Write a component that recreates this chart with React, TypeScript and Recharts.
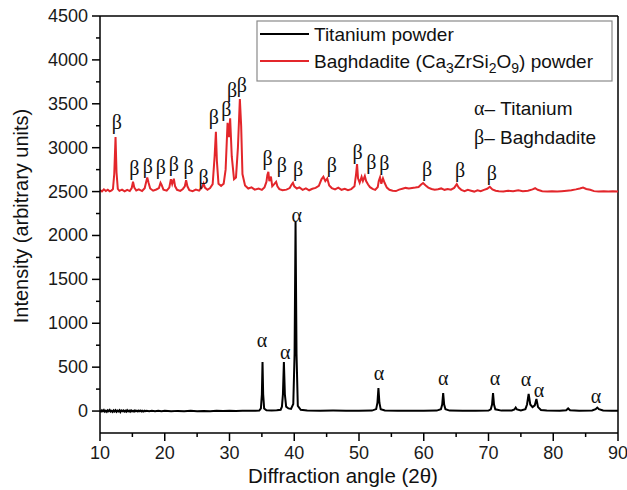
import React from "react";
import { ComposedChart, Line, Scatter, XAxis, YAxis, ReferenceLine } from "recharts";

const tiAngle = [10.0, 10.15, 10.3, 10.45, 10.6, 10.75, 10.9, 11.05, 11.2, 11.35, 11.5, 11.65, 11.8, 11.95, 12.1, 12.25, 12.4, 12.55, 12.7, 12.85, 13.0, 13.15, 13.3, 13.45, 13.6, 13.75, 13.9, 14.05, 14.2, 14.35, 14.5, 14.65, 14.8, 14.95, 15.1, 15.25, 15.4, 15.55, 15.7, 15.85, 16.0, 16.15, 16.3, 16.45, 16.6, 16.75, 16.9, 17.05, 17.2, 17.6, 18.0, 18.5, 19.0, 19.5, 20.0, 21.0, 22.0, 23.0, 24.0, 25.0, 26.0, 27.0, 28.0, 29.0, 30.0, 31.0, 32.0, 33.0, 34.0, 34.6, 34.85, 35.0, 35.1, 35.2, 35.35, 35.7, 36.5, 37.3, 37.9, 38.1, 38.25, 38.4, 38.55, 38.75, 39.1, 39.5, 39.85, 40.05, 40.2, 40.35, 40.55, 41.0, 42.0, 44.0, 46.0, 48.0, 50.0, 52.0, 52.65, 52.85, 53.0, 53.15, 53.35, 54.0, 56.0, 58.0, 60.0, 62.0, 62.65, 62.85, 63.0, 63.15, 63.35, 64.0, 66.0, 68.0, 70.0, 70.35, 70.55, 70.7, 70.85, 71.05, 72.0, 73.6, 74.0, 74.2, 74.4, 75.0, 75.7, 75.95, 76.2, 76.45, 76.8, 77.15, 77.4, 77.65, 78.1, 79.0, 81.0, 82.0, 82.3, 82.6, 84.0, 86.0, 86.55, 86.8, 87.05, 87.7, 89.0, 90.0];
const tiIntensity = [6, -5, 9, -3, 11, -7, 4, -9, 8, -2, 12, -6, 3, -10, 7, -4, 10, -8, 5, -3, 9, -11, 6, -2, 8, -6, 4, -7, 10, -3, 5, -8, 7, -5, 3, -6, 8, -2, 4, -5, 6, -3, 5, -4, 3, -5, 4, -2, 3, -3, 4, -3, 3, -2, 2, -3, 2, -2, 3, -2, 2, -1, 3, 1, 3, 2, 4, 3, 3, 6, 30, 190, 558, 190, 30, 10, 7, 8, 15, 50, 190, 558, 190, 50, 30, 25, 80, 650, 2153, 650, 60, 15, 6, 4, 5, 3, 4, 5, 22, 95, 262, 95, 22, 6, 4, 3, 4, 5, 20, 75, 205, 75, 20, 5, 3, 4, 6, 20, 75, 205, 75, 20, 5, 6, 18, 40, 18, 7, 22, 75, 194, 75, 45, 65, 137, 45, 12, 5, 4, 10, 30, 10, 4, 6, 22, 40, 22, 6, 4, 3];

const bgAngle = [10.0, 10.3, 10.6, 10.9, 11.2, 11.5, 11.8, 12.0, 12.2, 12.4, 12.55, 12.75, 13.0, 13.4, 13.8, 14.2, 14.6, 14.9, 15.1, 15.3, 15.6, 16.0, 16.5, 16.9, 17.1, 17.3, 17.5, 17.75, 18.2, 18.7, 19.1, 19.35, 19.5, 19.8, 20.3, 20.7, 20.95, 21.15, 21.4, 21.6, 21.9, 22.4, 22.8, 23.1, 23.3, 23.5, 23.8, 24.3, 24.8, 25.3, 25.75, 26.0, 26.2, 26.6, 27.0, 27.4, 27.7, 27.9, 28.05, 28.3, 28.7, 29.1, 29.4, 29.7, 29.9, 30.1, 30.35, 30.7, 31.0, 31.3, 31.6, 31.8, 32.0, 32.4, 32.9, 33.4, 33.9, 34.5, 35.0, 35.4, 35.7, 35.85, 36.0, 36.15, 36.4, 36.6, 36.9, 37.2, 37.4, 37.7, 38.2, 38.8, 39.3, 39.6, 39.8, 40.0, 40.4, 40.8, 41.3, 41.8, 42.3, 42.8, 43.3, 43.8, 44.2, 44.5, 44.8, 45.1, 45.4, 45.8, 46.3, 46.8, 47.3, 47.8, 48.3, 48.8, 49.3, 49.55, 49.7, 49.85, 50.1, 50.4, 50.6, 50.9, 51.1, 51.4, 51.7, 52.1, 52.5, 52.9, 53.05, 53.25, 53.45, 53.7, 53.95, 54.3, 54.7, 55.2, 55.7, 56.2, 56.7, 57.2, 57.7, 58.2, 58.7, 59.2, 59.6, 59.9, 60.3, 60.7, 61.2, 61.7, 62.2, 62.7, 63.2, 63.7, 64.2, 64.7, 65.1, 65.4, 65.8, 66.3, 66.8, 67.3, 67.8, 68.3, 68.8, 69.3, 69.8, 70.2, 70.6, 71.1, 71.6, 72.3, 73.0, 73.8, 74.6, 75.3, 76.1, 76.8, 77.2, 77.6, 78.3, 79.1, 79.8, 80.6, 81.3, 82.1, 82.8, 83.5, 84.1, 84.6, 85.1, 85.7, 86.3, 87.0, 87.8, 88.5, 89.2, 90.0];
const bgIntensity = [2518, 2502, 2526, 2506, 2522, 2503, 2514, 2528, 2700, 3121, 2720, 2530, 2508, 2522, 2502, 2520, 2506, 2540, 2612, 2545, 2512, 2526, 2506, 2538, 2600, 2662, 2600, 2535, 2510, 2524, 2540, 2600, 2580, 2522, 2510, 2545, 2640, 2585, 2646, 2560, 2520, 2508, 2530, 2560, 2631, 2560, 2515, 2505, 2522, 2510, 2548, 2593, 2545, 2520, 2540, 2585, 2900, 3181, 2850, 2590, 2565, 2590, 2750, 3284, 3120, 3334, 2900, 2640, 2660, 3000, 3554, 3250, 2700, 2570, 2535, 2548, 2522, 2535, 2520, 2548, 2610, 2690, 2726, 2620, 2670, 2560, 2585, 2612, 2560, 2528, 2515, 2522, 2540, 2580, 2600, 2560, 2535, 2548, 2520, 2536, 2515, 2532, 2542, 2565, 2640, 2669, 2620, 2650, 2570, 2540, 2525, 2545, 2520, 2532, 2515, 2528, 2560, 2700, 2813, 2650, 2600, 2668, 2620, 2677, 2620, 2580, 2550, 2530, 2520, 2552, 2620, 2662, 2590, 2650, 2600, 2545, 2520, 2510, 2506, 2522, 2532, 2542, 2536, 2542, 2546, 2552, 2580, 2598, 2570, 2545, 2530, 2520, 2526, 2536, 2520, 2530, 2522, 2542, 2585, 2545, 2520, 2505, 2520, 2510, 2500, 2515, 2505, 2520, 2532, 2555, 2525, 2510, 2505, 2500, 2510, 2505, 2515, 2505, 2510, 2525, 2538, 2520, 2505, 2500, 2505, 2500, 2505, 2510, 2515, 2525, 2535, 2545, 2530, 2520, 2505, 2500, 2505, 2500, 2505, 2500];

const alphaLabelAngle = [35.0, 38.6, 40.4, 53.1, 63.0, 71.0, 75.8, 77.8, 86.6];
const alphaLabelIntensity = [809, 672, 2232, 433, 376, 376, 364, 239, 171];
const betaLabelAngle = [12.6, 15.3, 17.4, 19.4, 21.4, 23.7, 26.0, 27.6, 29.5, 30.4, 31.9, 35.9, 38.1, 40.6, 45.8, 49.8, 51.9, 53.9, 60.5, 65.6, 70.5];
const betaLabelIntensity = [3292, 2768, 2790, 2779, 2813, 2779, 2665, 3349, 3440, 3656, 3713, 2882, 2802, 2756, 2802, 2950, 2836, 2825, 2756, 2745, 2711];

const xTicks = [10, 15, 20, 25, 30, 35, 40, 45, 50, 55, 60, 65, 70, 75, 80, 85, 90];
const yTicks = [0, 250, 500, 750, 1000, 1250, 1500, 1750, 2000, 2250, 2500, 2750, 3000, 3250, 3500, 3750, 4000, 4250, 4500];

const tiData = tiAngle.map((x, i) => ({ x, y: tiIntensity[i] }));
const bgData = bgAngle.map((x, i) => ({ x, y: bgIntensity[i] }));
const alphaData = alphaLabelAngle.map((x, i) => ({ x, y: alphaLabelIntensity[i], t: "α" }));
const betaData = betaLabelAngle.map((x, i) => ({ x, y: betaLabelIntensity[i], t: "β" }));

const SANS = "'Liberation Sans', Arial, sans-serif";
const SERIF = "'Liberation Serif', 'Times New Roman', serif";
const RED = "#e3262b";

const XTick = (props: any) => {
  const { x, y, payload } = props;
  const v = payload.value;
  const major = v % 10 === 0;
  return (
    <g>
      <line x1={x} x2={x} y1={y} y2={y + (major ? 8 : 4)} stroke="#000" strokeWidth={1.5} />
      {major && (
        <text x={x} y={y + 26} textAnchor="middle" fontSize={18} fill="#1a1a1a" fontFamily={SANS}>
          {v}
        </text>
      )}
    </g>
  );
};

const YTick = (props: any) => {
  const { x, y, payload } = props;
  const v = payload.value;
  const major = v % 500 === 0;
  return (
    <g>
      <line x1={x} x2={x - (major ? 8 : 4)} y1={y} y2={y} stroke="#000" strokeWidth={1.5} />
      {major && (
        <text x={x - 12} y={y + 6} textAnchor="end" fontSize={18} fill="#1a1a1a" fontFamily={SANS}>
          {v}
        </text>
      )}
    </g>
  );
};

const GreekLabel = (props: any) => {
  const { cx, cy, payload } = props;
  return (
    <text x={cx} y={cy} textAnchor="middle" dominantBaseline="central" fontSize={20} fill="#111" fontFamily={SERIF}>
      {payload.t}
    </text>
  );
};

export default function App() {
  return (
    <div style={{ position: "absolute", left: 0, top: 0, width: 627, height: 490, background: "#fff" }}>
      <ComposedChart width={627} height={490} margin={{ top: 16, right: 9, left: 0, bottom: 0 }}>
        <XAxis
          dataKey="x"
          type="number"
          domain={[10, 90]}
          ticks={xTicks}
          interval={0}
          tick={<XTick />}
          tickSize={0}
          tickMargin={0}
          tickLine={false}
          height={57}
          stroke="#000"
          strokeWidth={1.5}
          allowDataOverflow
        />
        <YAxis
          dataKey="y"
          type="number"
          domain={[-250, 4500]}
          ticks={yTicks}
          interval={0}
          tick={<YTick />}
          tickSize={0}
          tickMargin={0}
          tickLine={false}
          width={100}
          stroke="#000"
          strokeWidth={1.5}
          allowDataOverflow
        />
        <ReferenceLine y={4500} stroke="#000" strokeWidth={1.5} />
        <ReferenceLine x={90} stroke="#000" strokeWidth={1.5} />
        <Line data={bgData} dataKey="y" stroke={RED} strokeWidth={2} dot={false} isAnimationActive={false} />
        <Line data={tiData} dataKey="y" stroke="#000" strokeWidth={2} dot={false} isAnimationActive={false} />
        <Scatter data={alphaData} shape={<GreekLabel />} isAnimationActive={false} />
        <Scatter data={betaData} shape={<GreekLabel />} isAnimationActive={false} />
        <g>
          <rect x={257} y={21} width={355} height={60} fill="#fff" stroke="#8a8a8a" strokeWidth={1.2} />
          <line x1={260} x2={309} y1={34} y2={34} stroke="#000" strokeWidth={2} />
          <line x1={260} x2={309} y1={61} y2={61} stroke={RED} strokeWidth={2} />
          <text x={314} y={41} fontSize={19} fill="#111" fontFamily={SANS}>Titanium powder</text>
          <text x={314} y={68} fontSize={19} fill="#111" fontFamily={SANS}>
            Baghdadite (Ca<tspan fontSize={14} dy={5}>3</tspan>
            <tspan dy={-5}>ZrSi</tspan>
            <tspan fontSize={14} dy={5}>2</tspan>
            <tspan dy={-5}>O</tspan>
            <tspan fontSize={14} dy={5}>9</tspan>
            <tspan dy={-5}>) powder</tspan>
          </text>
          <text x={474} y={115} fontSize={19} fill="#111" fontFamily={SANS}>
            <tspan fontFamily={SERIF} fontSize={20}>α</tspan>– Titanium
          </text>
          <text x={474} y={144} fontSize={19} fill="#111" fontFamily={SANS}>
            <tspan fontFamily={SERIF} fontSize={20}>β</tspan>– Baghdadite
          </text>
          <text x={343} y={483} textAnchor="middle" fontSize={20.5} fill="#111" fontFamily={SANS}>
            Diffraction angle (2θ)
          </text>
          <text x={28} y={216} textAnchor="middle" fontSize={20} fill="#111" fontFamily={SANS} transform="rotate(-90 28 216)">
            Intensity (arbitrary units)
          </text>
        </g>
      </ComposedChart>
    </div>
  );
}
